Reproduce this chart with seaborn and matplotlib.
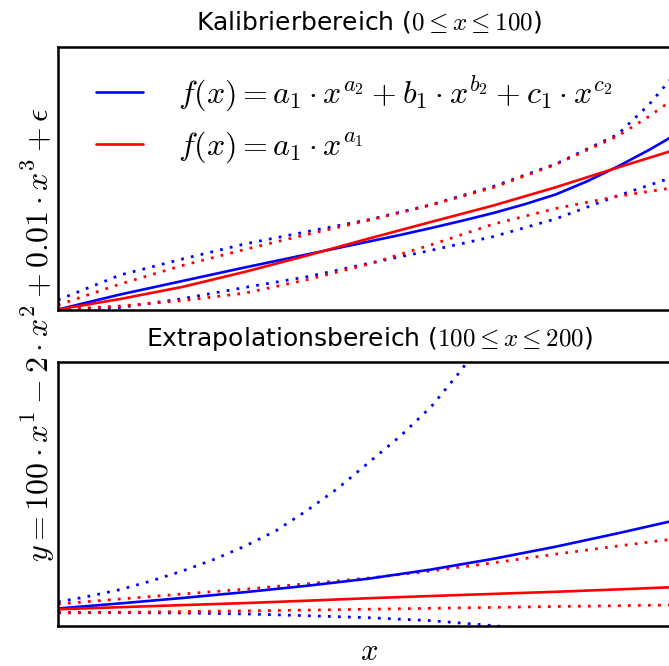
import matplotlib
matplotlib.use("Agg")
import matplotlib.pyplot as plt
from matplotlib.lines import Line2D
import pandas as pd
import seaborn as sns

# ---- calibration range (0 <= x <= 100) ----
x_cal = [0, 10, 20, 30, 40, 50, 60, 70, 80, 90, 100]
x_cal_fine = [0, 10, 20, 30, 40, 50, 55, 60, 65, 70, 75, 80, 85, 90, 95, 100]
blue_fit_cal = [0, 150, 285, 420, 550, 680, 745, 815, 888, 965, 1052, 1150, 1280, 1430, 1595, 1775]
red_fit_cal = [0, 105, 226, 376, 539, 710, 876, 1040, 1222, 1420, 1612]
x_cal_hi = [0, 10, 20, 30, 40, 50, 60, 70, 80, 90, 95, 100]
blue_hi_cal = [95, 345, 505, 655, 778, 899, 1048, 1231, 1455, 1751, 2048, 2412]
red_hi_cal = [45, 255, 440, 600, 750, 893, 1045, 1220, 1450, 1735, 1930, 2150]
blue_lo_cal = [0, 20, 108, 220, 327, 462, 592, 729, 906, 1138, 1347]
red_lo_cal = [0, 35, 89, 163, 297, 455, 647, 854, 1010, 1132, 1229]

# ---- extrapolation range (100 <= x <= 200) ----
x_ext = [100, 110, 120, 130, 140, 150, 160, 170, 180, 190, 200]
blue_fit_ext = [175, 226, 280, 338, 402, 474, 565, 672, 793, 927, 1068]
red_fit_ext = [167, 188, 209, 229, 253, 278, 300, 321, 342, 366, 391]
red_hi_ext = [220, 270, 320, 368, 422, 480, 550, 632, 718, 800, 878]
red_lo_ext = [130, 137, 144, 151, 159, 168, 177, 186, 195, 203, 211]
x_ext_hi = [100, 105, 110, 115, 120, 125, 130, 135, 140, 145, 150, 155, 160, 165, 170]
blue_hi_ext = [240, 298, 364, 451, 550, 664, 797, 951, 1154, 1377, 1637, 1897, 2193, 2571, 3043]
x_ext_lo = [100, 110, 120, 130, 140, 150, 160, 170, 180]
blue_lo_ext = [135, 134, 130, 121, 103, 83, 53, 4, -60]

label_three = r"$f(x) = a_1 \cdot x^{a_2} + b_1 \cdot x^{b_2} + c_1 \cdot x^{c_2}$"
label_one = r"$f(x) = a_1 \cdot x^{a_1}$"
colors = {"three": "#0000ff", "one": "#ff0000"}


def frame(parts):
    rows = []
    for model, curve, xs, ys in parts:
        for xv, yv in zip(xs, ys):
            rows.append({"x": xv, "y": yv, "model": model, "curve": curve})
    return pd.DataFrame(rows)


sns.set_theme(style="white")
plt.rcParams["font.family"] = ["DejaVu Sans"]
plt.rcParams["mathtext.fontset"] = "cm"
plt.rcParams["text.color"] = "black"
plt.rcParams["axes.titlecolor"] = "black"

fig = plt.figure(figsize=(6.69, 6.66), dpi=100)
W, H = 669.0, 666.0
ax_top = fig.add_axes([58 / W, 1 - 309.5 / H, 622 / W, 263 / H])
ax_bot = fig.add_axes([58 / W, 1 - 626 / H, 622 / W, 263.7 / H])

panels = [
    (ax_top,
     frame([("three", "fit", x_cal_fine, blue_fit_cal), ("one", "fit", x_cal, red_fit_cal)]),
     frame([("three", "b_hi", x_cal_hi, blue_hi_cal), ("three", "b_lo", x_cal, blue_lo_cal),
            ("one", "r_hi", x_cal_hi, red_hi_cal), ("one", "r_lo", x_cal, red_lo_cal)]),
     (0, 100), (0, 2630), r"Kalibrierbereich ($0 \leq x \leq 100$)"),
    (ax_bot,
     frame([("three", "fit", x_ext, blue_fit_ext), ("one", "fit", x_ext, red_fit_ext)]),
     frame([("three", "b_hi", x_ext_hi, blue_hi_ext), ("three", "b_lo", x_ext_lo, blue_lo_ext),
            ("one", "r_hi", x_ext, red_hi_ext), ("one", "r_lo", x_ext, red_lo_ext)]),
     (100, 200), (0, 2637), r"Extrapolationsbereich ($100 \leq x \leq 200$)"),
]

for ax, fits, bands, xlim, ylim, title in panels:
    sns.lineplot(data=bands, x="x", y="y", hue="model", units="curve",
                 estimator=None, palette=colors, linewidth=2.0,
                 dashes=False, legend=False, ax=ax)
    for line in ax.get_lines():
        line.set_linestyle((0, (1, 2.6)))
    sns.lineplot(data=fits, x="x", y="y", hue="model", palette=colors,
                 estimator=None, linewidth=1.9, legend=False, ax=ax)
    ax.set_xlim(*xlim)
    ax.set_ylim(*ylim)
    ax.set_xticks([])
    ax.set_yticks([])
    ax.set_xlabel("")
    ax.set_ylabel("")
    for sp in ax.spines.values():
        sp.set_color("black")
        sp.set_linewidth(1.8)
    ax.set_title(title, fontsize=18, pad=12, color="black")

handles = [Line2D([], [], color=colors["three"], lw=1.9),
           Line2D([], [], color=colors["one"], lw=1.9)]
ax_top.legend(handles, [label_three, label_one], loc="upper left",
              bbox_to_anchor=((96 - 58) / 622, 0.895), frameon=False,
              fontsize=23, handlelength=1.48, handletextpad=1.09,
              borderpad=0, borderaxespad=0, labelspacing=0.47)

fig.text(38 / W, 1 - 335 / H,
         r"$y = 100 \cdot x^1 - 2 \cdot x^2 + 0.01 \cdot x^3 + \epsilon$",
         rotation=90, ha="center", va="center", fontsize=23)
fig.text(369 / W, 1 - 652 / H, r"$x$", ha="center", va="center", fontsize=22)

fig.savefig("out.png", dpi=100)
